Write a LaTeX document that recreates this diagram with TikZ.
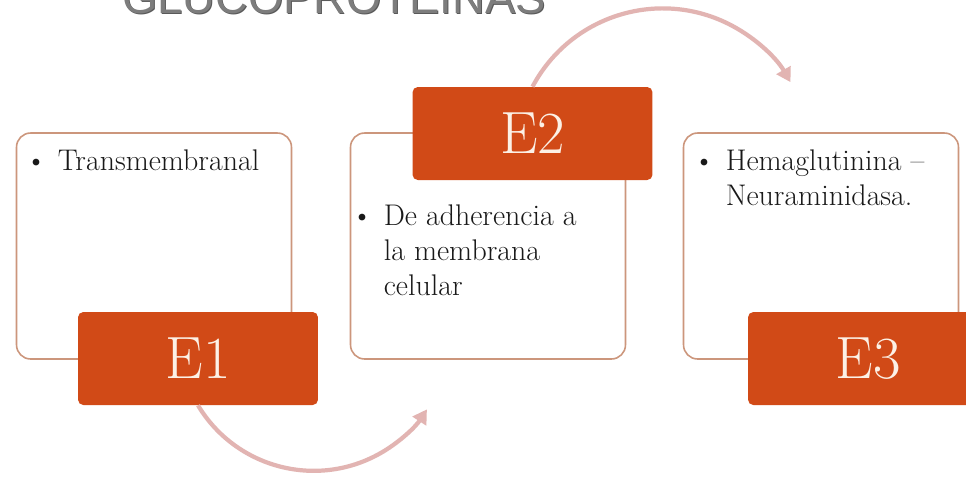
\documentclass[tikz,border=0pt]{standalone}
\usepackage{fontspec}
\newfontfamily\titlefont{Liberation Sans}
\usepackage{xcolor}
\usepackage{tikz}
\usetikzlibrary{arrows.meta}

\definecolor{boxline}{RGB}{204,150,124}
\definecolor{eorange}{RGB}{209,74,23}
\definecolor{ecream}{RGB}{252,241,230}
\definecolor{flowpink}{RGB}{226,180,178}
\definecolor{titlegray}{RGB}{125,125,125}

\newcommand{\bitem}[1]{\textbullet\hspace{0.22cm}\parbox[t]{5cm}{\raggedright #1}}

\tikzset{
  infobox/.style={draw=boxline, line width=0.9pt, fill=white, rounded corners=8pt,
    minimum width=5.5cm, minimum height=4.52cm},
  ebox/.style={fill=eorange, rounded corners=3pt, minimum width=4.8cm, minimum height=1.86cm,
    text=ecream, font=\fontsize{34}{40}\selectfont},
  itemtext/.style={anchor=base west, inner sep=0pt, text=black!90,
    font=\fontsize{17}{20}\selectfont},
  titletext/.style={anchor=base west, inner sep=0pt, font=\titlefont\fontsize{25.8}{30}\selectfont},
  flow/.style={draw=flowpink, line width=2.4pt, -{Triangle[length=8pt,width=9pt]}}
}

\begin{document}
\begin{tikzpicture}[x=0.02cm,y=0.02cm]

\clip (0,0) rectangle (966,-478);
\fill[white] (0,0) rectangle (966,-478);

\node[titletext, text=black!65] (titleshadow) at (123,-14) {GLUCOPROTEINAS};
\node[titletext, text=titlegray] (title) at (122,-13) {GLUCOPROTEINAS};

\node[infobox] (box1) at (154,-246) {};
\node[infobox] (box2) at (488,-246) {};
\node[infobox] (box3) at (821,-246) {};

\node[itemtext] (item1) at (25,-170) {\bitem{Transmembranal}};
\node[itemtext] (item2) at (351,-225) {\bitem{De adherencia a\\ la membrana\\ celular}};
\node[itemtext] (item3) at (693,-170) {\bitem{Hemaglutinina --\\ Neuraminidasa.}};

\node[ebox] (e1) at (198,-358.5) {E1};
\node[ebox] (e2) at (532.5,-133.5) {E2};
\node[ebox] (e3) at (868,-358.5) {E3};

\draw[flow] (e2.north) arc[start angle=152, end angle=30, radius=147.5];
\draw[flow] (e1.south) arc[start angle=211, end angle=327, radius=135];

\end{tikzpicture}
\end{document}
